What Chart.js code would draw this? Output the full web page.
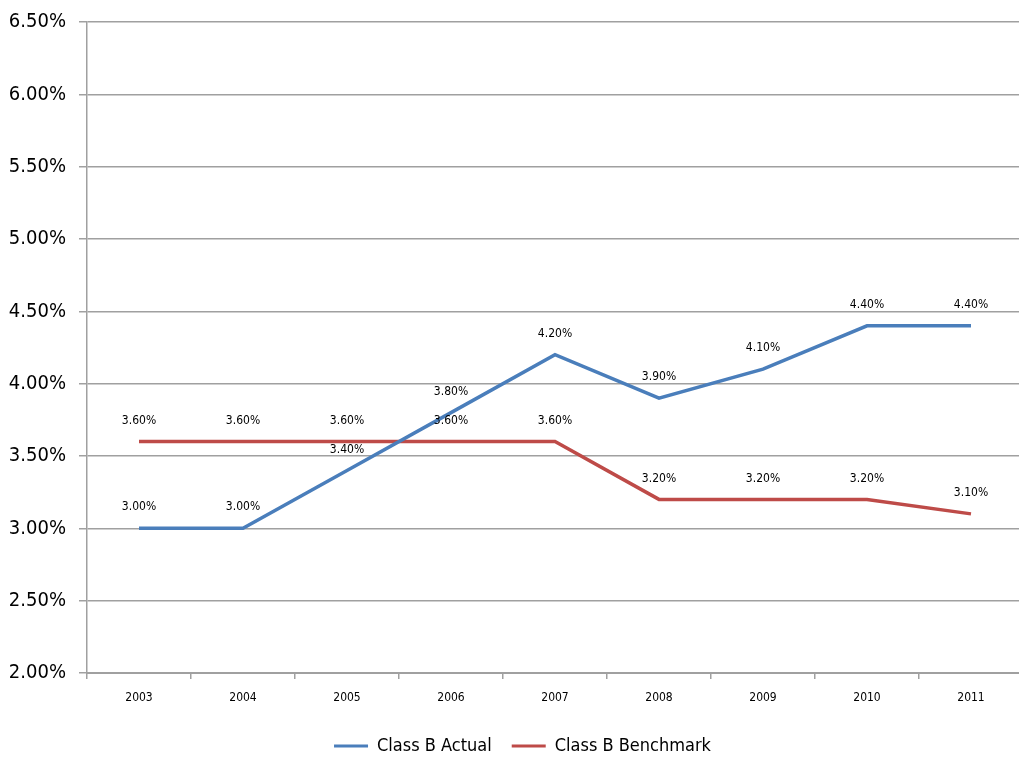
<!DOCTYPE html>
<html><head><meta charset="utf-8">
<script src="https://cdn.jsdelivr.net/npm/chart.js@4"></script>
<style>html,body{margin:0;padding:0;background:#fff;overflow:hidden}#wrap{width:1019px;height:758px;overflow:hidden}#box{width:1023px;height:765px;position:relative}</style>
</head><body><div id="wrap"><div id="box"><canvas id="c"></canvas></div></div>
<script>
const categories = ['2003','2004','2005','2006','2007','2008','2009','2010','2011'];
const actual = [3.0, 3.0, 3.4, 3.8, 4.2, 3.9, 4.1, 4.4, 4.4];
const benchmark = [3.6, 3.6, 3.6, 3.6, 3.6, 3.2, 3.2, 3.2, 3.1];
const yTicks = [2.0, 2.5, 3.0, 3.5, 4.0, 4.5, 5.0, 5.5, 6.0, 6.5];
const FONT = '"Liberation Sans Narrow", "DejaVu Sans Condensed", "Open Sans", sans-serif';

const labelPlugin = {
  id: 'pointLabels',
  afterDatasetsDraw(chart) {
    const ctx = chart.ctx;
    ctx.save();
    ctx.font = '12px ' + FONT;
    ctx.fillStyle = '#000';
    ctx.textAlign = 'center';
    ctx.textBaseline = 'middle';
    chart.data.datasets.forEach((ds, i) => {
      chart.getDatasetMeta(i).data.forEach((pt, j) => {
        ctx.fillText(ds.data[j].toFixed(2) + '%', pt.x, pt.y - 21);
      });
    });
    ctx.restore();
  }
};

const legendShift = {
  id: 'legendShift',
  afterLayout(chart) {
    if (chart.legend) { chart.legend.left += 11; chart.legend.right += 11; }
  }
};

new Chart(document.getElementById('c'), {
  type: 'line',
  data: {
    labels: categories,
    datasets: [
      {label: 'Class B Actual', data: actual, borderColor: '#4A7EBB', backgroundColor: '#4A7EBB', borderWidth: 3.5, pointRadius: 0, tension: 0},
      {label: 'Class B Benchmark', data: benchmark, borderColor: '#BE4B48', backgroundColor: '#BE4B48', borderWidth: 3.5, pointRadius: 0, tension: 0}
    ]
  },
  options: {
    responsive: true,
    maintainAspectRatio: false,
    animation: false,
    layout: {padding: {top: 22, left: 0, right: 0, bottom: 0}},
    plugins: {
      legend: {
        position: 'bottom',
        labels: {
          font: {size: 18, family: FONT},
          color: '#000',
          boxWidth: 34,
          boxHeight: 3,
          padding: 20,
          generateLabels(chart) {
            return chart.data.datasets.map((ds, i) => ({
              text: ds.label, fillStyle: ds.borderColor, strokeStyle: ds.borderColor,
              lineWidth: 0, hidden: false, datasetIndex: i, fontColor: '#000'
            }));
          }
        }
      },
      tooltip: {enabled: false}
    },
    scales: {
      x: {
        offset: true,
        grid: {offset: true, drawOnChartArea: false, color: '#A0A0A0', tickLength: 6, lineWidth: 1.5},
        border: {color: '#A0A0A0', width: 2},
        ticks: {font: {size: 12, family: FONT}, color: '#000', padding: 12, maxRotation: 0},
        afterFit(s) { s.height = 44; }
      },
      y: {
        min: 2.0, max: 6.5,
        afterBuildTicks(s) { s.ticks = yTicks.map(v => ({value: v})); },
        grid: {color: '#A0A0A0', lineWidth: 1.5, tickLength: 8},
        border: {color: '#A0A0A0', width: 1.5},
        ticks: {font: {size: 20, family: FONT}, color: '#000', padding: 13, callback: v => Number(v).toFixed(2) + '%'},
        afterFit(s) { s.width = 87; s.paddingTop = 0; s.paddingBottom = 0; }
      }
    }
  },
  plugins: [labelPlugin, legendShift]
});
</script>
</body></html>
